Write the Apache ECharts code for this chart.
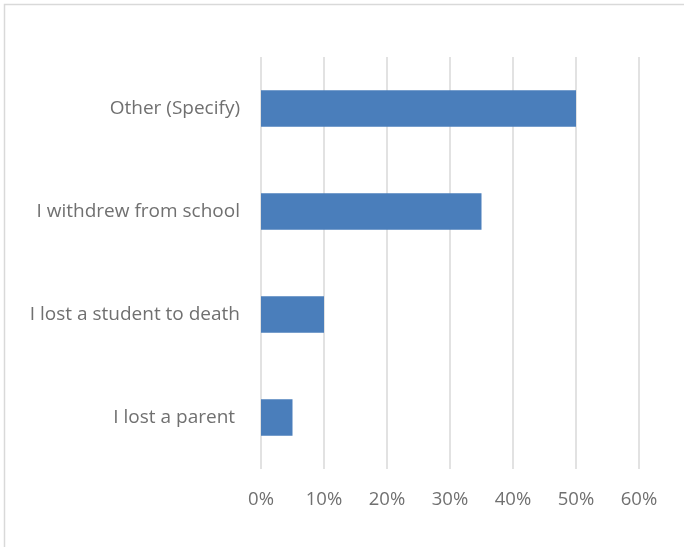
<!DOCTYPE html>
<html>
<head>
<meta charset="utf-8">
<script src="https://cdn.jsdelivr.net/npm/echarts@6/dist/echarts.min.js"></script>
<style>
html,body{margin:0;padding:0;background:#fff;}
#chart{width:684px;height:547px;}
</style>
</head>
<body>
<div id="chart"></div>
<script>
var categories = ["I lost a parent ", "I lost a student to death", "I withdrew from school", "Other (Specify)"];
var values = [5, 10, 35, 50];
var xTicks = {min: 0, max: 60, interval: 10};

var chart = echarts.init(document.getElementById('chart'));
chart.setOption({
  animation: false,
  backgroundColor: '#ffffff',
  graphic: [{
    type: 'rect',
    shape: {x: 4.5, y: 4.5, width: 720, height: 600},
    style: {fill: 'none', stroke: '#d9d9d9', lineWidth: 1.5},
    silent: true
  }],
  grid: {left: 261, right: 45, top: 57, bottom: 78, containLabel: false},
  xAxis: {
    type: 'value',
    min: xTicks.min, max: xTicks.max, interval: xTicks.interval,
    axisLine: {show: false},
    axisTick: {show: false},
    axisLabel: {formatter: '{value}%', color: '#707070', fontSize: 18.5, fontFamily: 'Open Sans', margin: 21},
    splitLine: {lineStyle: {color: '#d9d9d9', width: 1.5}}
  },
  yAxis: {
    type: 'category',
    data: categories,
    axisLine: {show: false},
    axisTick: {show: false},
    axisLabel: {color: '#707070', fontSize: 19, fontFamily: 'Open Sans', margin: 21}
  },
  series: [{
    type: 'bar',
    data: values,
    barWidth: '35.5%',
    itemStyle: {color: '#4a7ebb'}
  }]
});
</script>
</body>
</html>
